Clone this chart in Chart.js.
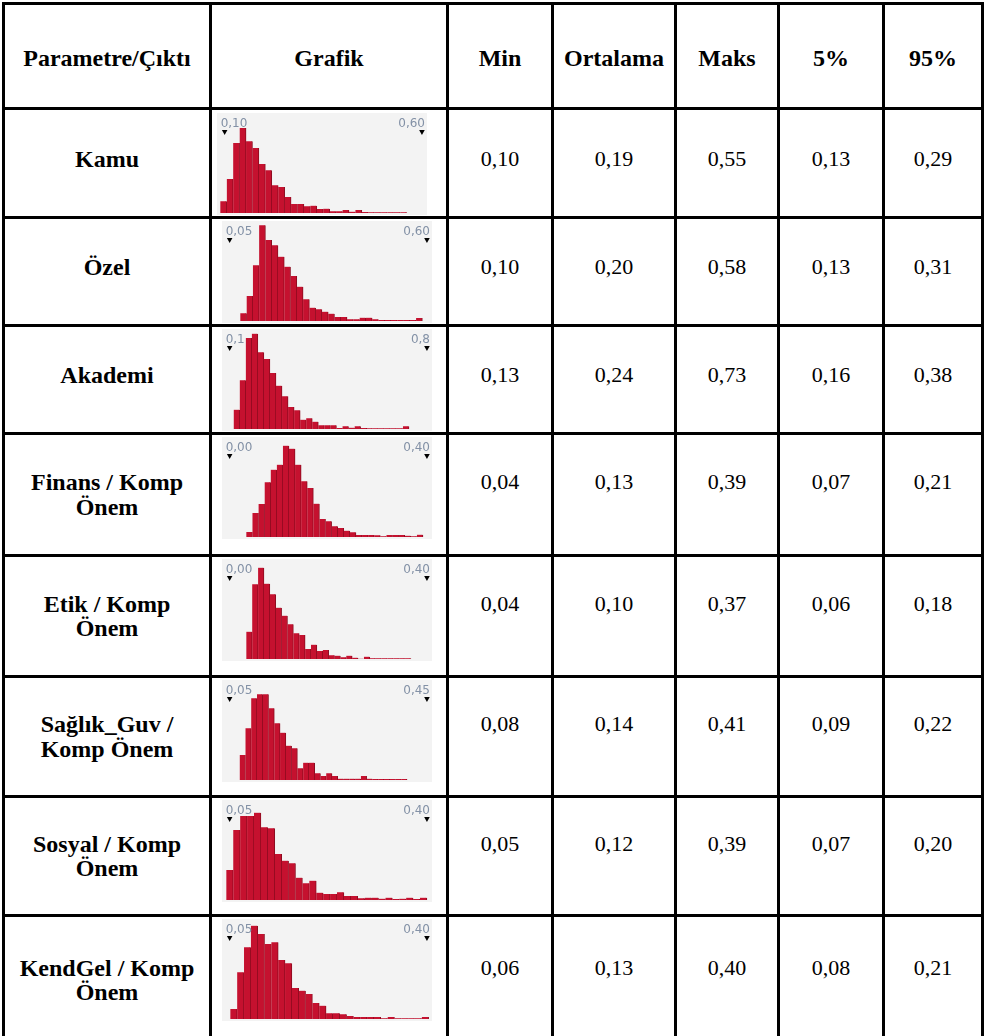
<!DOCTYPE html>
<html>
<head>
<meta charset="utf-8">
<script src="https://cdn.jsdelivr.net/npm/chart.js@4.4.1/dist/chart.umd.min.js"></script>
<style>
  html, body { margin: 0; padding: 0; background: #fff; }
  body { width: 990px; height: 1036px; position: relative; overflow: hidden; }
  #grid {
    position: absolute; left: 2px; top: 2px;
    display: grid;
    grid-template-columns: 204px 234px 102px 120px 100px 102px 96px;
    grid-template-rows: 102px 106px 105px 105px 119px 118px 117px 116px 126px;
    gap: 3px; padding: 3px; background: #000;
  }
  .cell {
    background: #fff; display: flex; align-items: center; justify-content: center;
    text-align: center; font-family: "Liberation Serif", "Times New Roman", serif;
    color: #000; white-space: pre-line; line-height: 1.02; box-sizing: border-box;
  }
  .hdr { font-weight: bold; font-size: 24px; padding-top: 4px; }
  .lbl { font-weight: bold; font-size: 24px; }
  .num { font-size: 22px; }
  .one { padding-bottom: 8px; }
  .two.num { padding-bottom: 24px; }
  .gcell { position: relative; display: block; }
  .gcell canvas { position: absolute; left: 10px; top: 2px; background: #f3f3f3; }
  .gcell.first canvas { left: 5px; top: 3px; }
</style>
</head>
<body>
<div id="grid"></div>
<script>
const headers = ['Parametre/Çıktı', 'Grafik', 'Min', 'Ortalama', 'Maks', '5%', '95%'];
const rowLabels = ['Kamu', 'Özel', 'Akademi', 'Finans / Komp\nÖnem', 'Etik / Komp\nÖnem', 'Sağlık_Guv /\nKomp Önem', 'Sosyal / Komp\nÖnem', 'KendGel / Komp\nÖnem'];
const minVals  = [0.10, 0.10, 0.13, 0.04, 0.04, 0.08, 0.05, 0.06];
const meanVals = [0.19, 0.20, 0.24, 0.13, 0.10, 0.14, 0.12, 0.13];
const maxVals  = [0.55, 0.58, 0.73, 0.39, 0.37, 0.41, 0.39, 0.40];
const p5Vals   = [0.13, 0.13, 0.16, 0.07, 0.06, 0.09, 0.07, 0.08];
const p95Vals  = [0.29, 0.31, 0.38, 0.21, 0.18, 0.22, 0.20, 0.21];

const markerLo     = [0.10, 0.05, 0.1, 0.00, 0.00, 0.05, 0.05, 0.05];
const markerHi     = [0.60, 0.60, 0.8, 0.40, 0.40, 0.45, 0.40, 0.40];
const markerLoText = ['0,10', '0,05', '0,1', '0,00', '0,00', '0,05', '0,05', '0,05'];
const markerHiText = ['0,60', '0,60', '0,8', '0,40', '0,40', '0,45', '0,40', '0,40'];

const binStart = [0.089, 0.0797, 0.1142, 0.0338, 0.0338, 0.0703, 0.0441, 0.0512];
const binWidth = [0.0163, 0.0175, 0.02145, 0.01235, 0.01192, 0.0117, 0.01227, 0.01213];

const kamuHist    = [35,102,210,255,215,195,147,128,83,78,48,27,27,20,22,12,13,5,5,9,4,9,3,2,2,2,2,2,2];
const ozelHist    = [23,75,167,287,243,227,193,163,135,103,65,40,35,28,22,12,12,5,5,10,10,5,3,3,3,3,3,3,9];
const akademiHist = [58,146,273,286,230,210,168,130,98,66,56,28,32,22,11,11,11,3,8,4,8,3,2,2,2,2,2,2,8];
const finansHist  = [15,72,99,164,202,217,274,265,217,167,147,100,54,47,32,27,19,14,6,6,6,5,2,6,6,6,4,2,7];
const etikHist    = [82,224,274,226,194,154,130,104,77,72,30,43,24,27,11,10,5,10,4,1,7,2,2,2,2,2,2,2];
const saglikHist  = [75,155,245,257,257,215,170,142,103,95,35,52,52,20,12,20,12,4,4,4,4,12,4,3,3,3,3,3,3];
const sosyalHist  = [90,210,252,252,262,218,215,138,118,110,67,50,58,22,18,18,23,12,12,5,7,7,4,7,3,4,7,3,7];
const kendgelHist = [30,140,215,280,255,225,230,177,167,93,85,75,48,40,17,17,14,9,6,6,6,6,2,6,2,2,2,2,6];
const histograms = [kamuHist, ozelHist, akademiHist, finansHist, etikHist, saglikHist, sosyalHist, kendgelHist];

const fmt = v => v.toFixed(2).replace('.', ',');
const grid = document.getElementById('grid');
function addCell(cls, text) {
  const d = document.createElement('div');
  d.className = 'cell ' + cls;
  if (text !== undefined) d.textContent = text;
  grid.appendChild(d);
  return d;
}
headers.forEach(h => addCell('hdr', h));

// marker fractions within the thumbnail width
const fa = 0.0365, fb = 0.976;

const markerPlugin = {
  id: 'markers',
  afterDraw(chart, args, opts) {
    const ctx = chart.ctx;
    const xs = chart.scales.x;
    const top = chart.chartArea.top;
    const pts = [
      { v: opts.lo, t: opts.loText, align: 'left', dx: -4 },
      { v: opts.hi, t: opts.hiText, align: 'right', dx: 3 }
    ];
    ctx.save();
    pts.forEach(p => {
      const px = xs.getPixelForValue(p.v);
      ctx.fillStyle = '#8391a6';
      ctx.font = '12px "DejaVu Sans", sans-serif';
      ctx.textAlign = p.align;
      ctx.textBaseline = 'alphabetic';
      ctx.fillText(p.t, px + p.dx, top + 14);
      ctx.fillStyle = '#000';
      ctx.beginPath();
      ctx.moveTo(px - 2.8, top + 17);
      ctx.lineTo(px + 2.8, top + 17);
      ctx.lineTo(px, top + 22);
      ctx.closePath();
      ctx.fill();
    });
    ctx.restore();
  }
};

rowLabels.forEach((lab, r) => {
  const lines = lab.includes('\n') ? 'two' : 'one';
  addCell('lbl ' + lines, lab);
  const g = addCell('gcell' + (r === 0 ? ' first' : ''));
  const cv = document.createElement('canvas');
  cv.width = 210; cv.height = 102;
  cv.style.width = '210px'; cv.style.height = '102px';
  g.appendChild(cv);
  [minVals, meanVals, maxVals, p5Vals, p95Vals].forEach(arr => addCell('num ' + lines, fmt(arr[r])));

  const lo = markerLo[r], hi = markerHi[r];
  const span = (hi - lo) / (fb - fa);
  const xmin = lo - span * fa, xmax = hi + span * (1 - fb);
  const data = histograms[r].map((c, i) => ({ x: binStart[r] + (i + 0.5) * binWidth[r], y: c }));

  new Chart(cv.getContext('2d'), {
    type: 'bar',
    data: {
      datasets: [{
        data: data,
        backgroundColor: '#c5112f',
        borderColor: '#8a0b1f',
        borderWidth: { right: 1, left: 0, top: 0, bottom: 0 },
        borderSkipped: 'start',
        barPercentage: 1,
        categoryPercentage: 1
      }]
    },
    options: {
      responsive: false,
      animation: false,
      events: [],
      layout: { padding: { left: 0, right: 0, top: 0, bottom: 2 } },
      plugins: {
        legend: { display: false },
        tooltip: { enabled: false },
        markers: { lo: lo, hi: hi, loText: markerLoText[r], hiText: markerHiText[r] }
      },
      scales: {
        x: { type: 'linear', min: xmin, max: xmax, display: false, offset: false, grid: { display: false } },
        y: { min: 0, max: 300, display: false }
      }
    },
    plugins: [markerPlugin]
  });
});
</script>
</body>
</html>
